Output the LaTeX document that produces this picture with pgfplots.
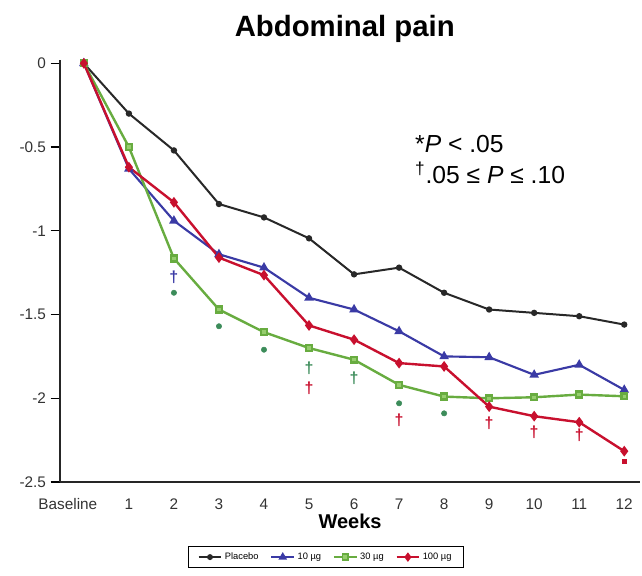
\documentclass[border=0pt]{standalone}
\usepackage{fontspec}
\setmainfont{Liberation Sans}
\usepackage{pgfplots}
\pgfplotsset{compat=1.18}
\definecolor{cPla}{RGB}{40,40,40}
\definecolor{cBlue}{RGB}{58,58,165}
\definecolor{cGreen}{RGB}{104,172,64}
\definecolor{cGreenL}{RGB}{150,205,110}
\definecolor{cGreenD}{RGB}{60,140,90}
\definecolor{cRed}{RGB}{200,16,46}
\begin{document}
\begin{tikzpicture}
\begin{axis}[name=ax, scale only axis, width=435pt, height=316.5pt,
  xmin=-0.53, xmax=12.35, ymin=-2.5, ymax=0.02,
  axis lines=left, axis line style={-, line width=1.3pt, draw=black!85},
  xtick={0,1,2,3,4,5,6,7,8,9,10,11,12},
  xticklabels={{\hspace*{-24pt}Baseline},1,2,3,4,5,6,7,8,9,10,11,12},
  ytick={-2.5,-2,-1.5,-1,-0.5,0},
  yticklabels={-2.5,-2,-1.5,-1,-0.5,0},
  tick align=outside, major tick length=7pt,
  xtick style={draw=none}, ytick style={line width=1pt, black},
  ticklabel style={font=\fontsize{11.5}{13}\selectfont, text=black!80},
  xticklabel style={yshift=-2pt},
  xlabel={Weeks},
  xlabel style={font=\bfseries\fontsize{15}{17}\selectfont, at={(axis description cs:0.5,-0.094)}, anchor=center},
  legend columns=4,
  legend style={at={(axis description cs:0.4586,-0.178)}, anchor=center, draw=black, line width=0.8pt,
    font=\fontsize{7}{8}\selectfont, inner xsep=7pt, inner ysep=2.5pt,
    /tikz/every even column/.append style={column sep=7pt}},
  legend image post style={line width=1.2pt},
  clip=false,
]
\addplot[cPla, line width=1.5pt, mark=*, mark size=1.6pt] coordinates {
(0,0)(1,-0.30)(2,-0.52)(3,-0.84)(4,-0.92)(5,-1.045)(6,-1.26)(7,-1.22)(8,-1.37)(9,-1.47)(10,-1.49)(11,-1.51)(12,-1.56)};
\addlegendentry{Placebo}
\addplot[cBlue, line width=1.6pt, mark=triangle*, mark size=2.6pt] coordinates {
(0,0)(1,-0.63)(2,-0.94)(3,-1.14)(4,-1.22)(5,-1.40)(6,-1.47)(7,-1.60)(8,-1.75)(9,-1.755)(10,-1.86)(11,-1.80)(12,-1.95)};
\addlegendentry{10 µg}
\addplot[cGreen, line width=1.8pt, mark=square*, mark size=2.2pt, mark options={fill=cGreenL}] coordinates {
(0,0)(1,-0.50)(2,-1.165)(3,-1.47)(4,-1.605)(5,-1.70)(6,-1.77)(7,-1.92)(8,-1.99)(9,-2.0)(10,-1.994)(11,-1.978)(12,-1.988)};
\addlegendentry{30 µg}
\addplot[cRed, line width=1.8pt, mark=diamond*, mark size=2.6pt] coordinates {
(0,0)(1,-0.62)(2,-0.83)(3,-1.16)(4,-1.265)(5,-1.565)(6,-1.65)(7,-1.79)(8,-1.81)(9,-2.05)(10,-2.107)(11,-2.143)(12,-2.316)};
\addlegendentry{100 µg}
% significance markers
\addplot[forget plot, only marks, mark=*, mark size=2pt, color=cGreenD] coordinates {
(2,-1.37)(3,-1.57)(4,-1.71)(7,-2.03)(8,-2.09)};
\addplot[forget plot, only marks, mark=square*, mark size=1.7pt, color=cRed] coordinates {(12,-2.376)};
\addplot[forget plot, only marks, mark=text, text mark={\textcolor{cGreenD}{\bfseries\fontsize{12}{12}\selectfont †}}] coordinates {
(5,-1.82)(6,-1.88)};
\addplot[forget plot, only marks, mark=text, text mark={\textcolor{cRed}{\bfseries\fontsize{12}{12}\selectfont †}}] coordinates {
(5,-1.94)(7,-2.13)(9,-2.15)(10,-2.20)(11,-2.22)};
\addplot[forget plot, only marks, mark=text, text mark={\textcolor{cBlue}{\bfseries\fontsize{12}{12}\selectfont †}}] coordinates {
(2,-1.28)};
\node[font=\bfseries\fontsize{22}{26}\selectfont, anchor=base] at (axis description cs:0.491,1.0545) {Abdominal pain};
\node[font=\fontsize{18.5}{22}\selectfont, anchor=base west, inner sep=0pt] at (axis description cs:0.612,0.78) {*\textit{P} < .05};
\node[font=\fontsize{18.5}{22}\selectfont, anchor=base west, inner sep=0pt] at (axis description cs:0.612,0.7085) {\textsuperscript{†}.05 ≤ \textit{P} ≤ .10};
\end{axis}
\pgfresetboundingbox
\path[use as bounding box] ([xshift=-45pt,yshift=-69.75pt]ax.south west) rectangle ([xshift=436.5pt,yshift=361.5pt]ax.south west);
\end{tikzpicture}
\end{document}
